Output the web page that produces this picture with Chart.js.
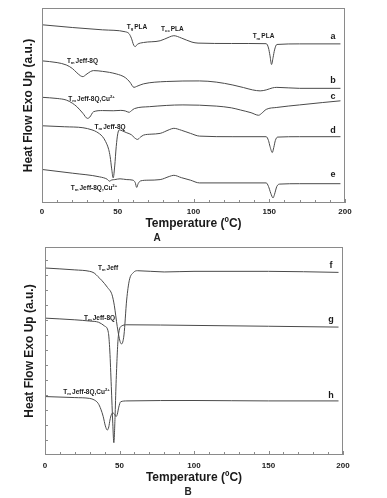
<!DOCTYPE html>
<html>
<head>
<meta charset="utf-8">
<script src="https://cdn.jsdelivr.net/npm/chart.js@4.4.0/dist/chart.umd.min.js"></script>
<style>
    body { margin: 0; background: #fff; }
    .panel { position: absolute; left: 0; width: 387px; }
    #panelA { top: 0; height: 240px; }
    #panelB { top: 240px; height: 258px; }
    .tag { position: absolute; font: bold 10px 'Liberation Sans', Arial, sans-serif; color: #222; transform: translate(-50%, -50%); }
</style>
</head>
<body>
<div class="panel" id="panelA"><canvas id="chartA"></canvas></div>
<div class="panel" id="panelB"><canvas id="chartB"></canvas></div>
<div class="tag" style="left:157px;top:237px">A</div>
<div class="tag" style="left:188px;top:491px">B</div>
<script>
// Panel A - PLA blends (temperature in ºC, heat flow in arbitrary units)
const tempA_a = [0, 20, 40, 55, 57.5, 59, 60.5, 61.5, 63, 67, 78, 84, 87, 92, 99, 103, 125, 148, 149.5, 150.5, 151.5, 152.5, 153.5, 155, 170, 197];
const heatA_a = [91.4, 90.0, 88.8, 87.8, 86.8, 84.5, 81.0, 80.2, 81.4, 82.3, 83.2, 85.1, 85.8, 84.6, 82.5, 82.0, 81.8, 81.7, 79.5, 75.5, 71.0, 74.5, 78.5, 81.3, 81.6, 81.6];

const tempA_b = [0, 10, 16, 20, 23, 25.5, 27, 29, 32, 34, 40, 49, 55, 58, 60.7, 62.5, 67, 82, 104, 115, 126, 133, 139, 144, 148, 152, 155, 170, 197];
const heatA_b = [72.9, 72.0, 70.8, 69.0, 66.8, 65.2, 64.8, 65.8, 67.4, 67.9, 67.5, 66.2, 64.3, 62.0, 59.3, 59.8, 61.1, 62.3, 62.6, 62.0, 60.5, 59.2, 58.0, 57.5, 58.0, 59.0, 59.3, 58.8, 58.8];

const tempA_c = [0, 10, 16, 20, 23, 27, 30, 31.5, 34, 40, 47, 52, 55, 57.5, 59, 61, 71, 93, 115, 125, 131, 138, 143, 145, 148, 155, 170, 185, 197];
const heatA_c = [54.2, 53.6, 52.8, 51.2, 49.4, 46.0, 43.4, 44.0, 46.8, 47.4, 47.3, 47.5, 47.2, 46.5, 47.3, 48.4, 49.4, 50.3, 49.7, 48.8, 47.7, 46.3, 45.0, 46.0, 48.0, 49.0, 50.3, 51.5, 52.4];

const tempA_d = [0, 15, 27, 33, 36, 40, 42, 44, 45, 46, 47, 48, 49, 50, 51, 53, 56, 59, 61, 63, 65, 67, 72, 78, 84, 87, 92, 98, 104, 126, 148, 149.5, 150.5, 152, 153, 154, 155.5, 170, 197];
const heatA_d = [39.6, 39.1, 38.6, 37.5, 36.5, 34.0, 31.5, 27.5, 23.7, 17.5, 12.9, 19.0, 29.0, 35.5, 37.5, 37.0, 36.0, 35.0, 33.5, 32.6, 33.8, 34.8, 35.3, 35.7, 37.6, 38.3, 37.3, 35.7, 34.3, 34.0, 34.0, 32.0, 29.0, 25.9, 28.5, 32.0, 33.8, 34.0, 34.0];

const tempA_e = [0, 20, 38, 43, 44.5, 46, 48, 51.5, 56, 60, 61.5, 62.5, 63.5, 65, 70, 78, 84, 87, 92, 98, 104, 148, 149.5, 151, 152.5, 153.5, 155, 157, 170, 197];
const heatA_e = [17.2, 15.3, 13.4, 12.2, 11.2, 11.8, 12.0, 12.4, 12.0, 11.7, 10.5, 8.0, 10.0, 11.3, 11.7, 12.0, 13.6, 14.2, 13.0, 11.7, 10.3, 10.3, 8.5, 5.0, 2.6, 4.5, 8.5, 9.7, 9.9, 9.9];

// Panel B - Jeffamine samples
const tempB_f = [0, 20, 30, 33, 35.5, 38, 42, 45, 46.5, 48.5, 50.4, 51.4, 53, 54.8, 56.6, 59.3, 62, 80, 100, 150, 197];
const heatB_f = [89.9, 89.0, 88.3, 87.5, 85.8, 84.0, 80.5, 77.0, 72.0, 61.7, 54.5, 53.4, 57.7, 74.5, 84.0, 87.7, 88.6, 88.0, 88.3, 88.3, 87.8];

const tempB_g = [0, 20, 30, 36, 40, 42.5, 43.5, 44.5, 45.5, 46.2, 47, 47.7, 49.2, 51.4, 55, 100, 150, 197];
const heatB_g = [65.8, 65.0, 64.4, 63.8, 62.0, 59.0, 50.0, 33.0, 15.0, 5.9, 18.0, 34.5, 56.9, 62.0, 62.6, 62.3, 61.9, 61.5];

const tempB_h = [0, 20, 30, 33, 35.7, 37.5, 39.1, 40.5, 41.8, 42.8, 43.6, 44.5, 45.4, 46.5, 47.7, 48.5, 49.5, 50.8, 55, 100, 150, 197];
const heatB_h = [28.1, 27.6, 27.2, 26.5, 24.8, 22.0, 18.4, 14.0, 12.0, 13.5, 16.8, 19.3, 20.2, 19.8, 18.5, 19.5, 23.0, 25.6, 26.0, 26.2, 26.0, 26.0];

const xTickLabels = [0, 50, 100, 150, 200];

// Curve letters, placed at the right-hand side
const namesA = ['a', 'b', 'c', 'd', 'e'];
const namesLevelA = [85.6, 62.7, 54.5, 37.4, 14.7];
const namesB = ['f', 'g', 'h'];
const namesLevelB = [90.9, 64.9, 28.7];
const namesTemp = 192;

// Transition annotations: [temperature, level, subscript, text, superscript]
const notesA = [
    [62.7, 90.3, 'g', 'PLA', ''],
    [86.1, 89.1, 'cc', 'PLA', ''],
    [146.2, 85.3, 'm', 'PLA', ''],
    [26.7, 72.8, 'm', 'Jeff-8Q', ''],
    [32.7, 53.2, 'm', 'Jeff-8Q,Cu', '2+'],
    [44.9, 38.8, 'm', 'Jeff-8Q', ''],
    [34.3, 7.8, 'm', 'Jeff-8Q,Cu', '2+']
];
const notesB = [
    [42.3, 89.8, 'm', 'Jeff', ''],
    [36.6, 65.7, 'm', 'Jeff-8Q', ''],
    [27.9, 30.4, 'm', 'Jeff-8Q,Cu', '2+']
];

const FONT = "'Liberation Sans', Arial, sans-serif";

function pts(t, v) {
    return t.map((x, i) => ({ x: x, y: v[i] }));
}

function curve(t, v) {
    return {
        data: pts(t, v),
        borderColor: '#4a4a4a',
        borderWidth: 1,
        pointRadius: 0,
        cubicInterpolationMode: 'monotone',
        fill: false
    };
}

// T with a subscript, then text, then optional superscript
function drawNote(ctx, cx, cy, sub, text, sup, size) {
    const big = 'bold ' + size + 'px ' + FONT;
    const small = 'bold ' + (size * 0.65) + 'px ' + FONT;
    ctx.font = big;
    const wT = ctx.measureText('T').width;
    const wX = ctx.measureText(text).width;
    ctx.font = small;
    const wS = ctx.measureText(sub).width;
    const wP = sup ? ctx.measureText(sup).width : 0;
    let px = cx - (wT + wS + 1 + wX + wP) / 2;
    ctx.textAlign = 'left';
    ctx.textBaseline = 'middle';
    ctx.font = big; ctx.fillText('T', px, cy); px += wT;
    ctx.font = small; ctx.fillText(sub, px, cy + size * 0.3); px += wS + 1;
    ctx.font = big; ctx.fillText(text, px, cy); px += wX;
    if (sup) { ctx.font = small; ctx.fillText(sup, px, cy - size * 0.35); }
}

// Frame, inward ticks and text annotations
const dscPlugin = {
    id: 'dsc',
    afterDatasetsDraw(chart, args, opts) {
        const ctx = chart.ctx;
        const a = chart.chartArea;
        const x = chart.scales.x, y = chart.scales.y;
        ctx.save();
        ctx.strokeStyle = '#8a8a8a';
        ctx.lineWidth = 1;
        ctx.strokeRect(a.left + 0.5, a.top + 0.5, a.right - a.left - 1, a.bottom - a.top - 1);

        ctx.beginPath();
        for (let t = 0; t <= 200; t += 10) {
            const px = Math.round(x.getPixelForValue(t)) + 0.5;
            ctx.moveTo(px, a.bottom);
            ctx.lineTo(px, a.bottom - (t % 50 === 0 ? 4 : 3));
        }
        if (opts.yStep) {
            for (let v = y.min + opts.yStep; v < y.max; v += opts.yStep) {
                const py = Math.round(y.getPixelForValue(v)) + 0.5;
                ctx.moveTo(a.left, py);
                ctx.lineTo(a.left + 3, py);
            }
        }
        ctx.stroke();

        ctx.fillStyle = '#1a1a1a';
        opts.notes.forEach(n => {
            drawNote(ctx, x.getPixelForValue(n[0]), y.getPixelForValue(n[1]), n[2], n[3], n[4], 6.5);
        });
        ctx.font = 'bold 9px ' + FONT;
        ctx.textAlign = 'center';
        ctx.textBaseline = 'middle';
        opts.names.forEach((s, i) => {
            ctx.fillText(s, x.getPixelForValue(namesTemp), y.getPixelForValue(opts.levels[i]));
        });
        ctx.restore();
    }
};

function makeChart(id, datasets, cfg) {
    return new Chart(document.getElementById(id), {
        type: 'line',
        data: { datasets: datasets },
        options: {
            responsive: true,
            maintainAspectRatio: false,
            animation: false,
            layout: { padding: cfg.padding },
            plugins: {
                legend: { display: false },
                tooltip: { enabled: false },
                dsc: { notes: cfg.notes, names: cfg.names, levels: cfg.levels, yStep: cfg.yStep }
            },
            scales: {
                x: {
                    type: 'linear',
                    min: 0,
                    max: 200,
                    afterBuildTicks: s => { s.ticks = xTickLabels.map(v => ({ value: v })); },
                    afterFit: s => { s.height = cfg.xHeight; },
                    grid: { display: false, drawTicks: false },
                    border: { display: false },
                    ticks: {
                        autoSkip: false,
                        maxRotation: 0,
                        padding: cfg.tickPad,
                        color: '#1a1a1a',
                        font: { family: FONT, size: 8, weight: 'bold' }
                    },
                    title: {
                        display: true,
                        text: 'Temperature (ºC)',
                        color: '#1a1a1a',
                        padding: { top: 0, bottom: cfg.titlePad },
                        font: { family: FONT, size: 12, weight: 'bold' }
                    }
                },
                y: {
                    min: 0,
                    max: 100,
                    afterFit: s => { s.width = cfg.yWidth; },
                    grid: { display: false },
                    border: { display: false },
                    ticks: { display: false },
                    title: {
                        display: true,
                        text: 'Heat Flow Exo Up (a.u.)',
                        color: '#1a1a1a',
                        padding: { top: 5, bottom: 0 },
                        font: { family: FONT, size: 12, weight: 'bold' }
                    }
                }
            }
        },
        plugins: [dscPlugin]
    });
}

makeChart('chartA', [
    curve(tempA_a, heatA_a),
    curve(tempA_b, heatA_b),
    curve(tempA_c, heatA_c),
    curve(tempA_d, heatA_d),
    curve(tempA_e, heatA_e)
], {
    padding: { left: 16, top: 8, right: 42, bottom: 0 },
    xHeight: 37, yWidth: 26, tickPad: 4, titlePad: 9,
    notes: notesA, names: namesA, levels: namesLevelA, yStep: 0
});

makeChart('chartB', [
    curve(tempB_f, heatB_f),
    curve(tempB_g, heatB_g),
    curve(tempB_h, heatB_h)
], {
    padding: { left: 17, top: 7, right: 44, bottom: 0 },
    xHeight: 43, yWidth: 28, tickPad: 6, titlePad: 13,
    notes: notesB, names: namesB, levels: namesLevelB, yStep: 7.2
});
</script>
</body>
</html>
